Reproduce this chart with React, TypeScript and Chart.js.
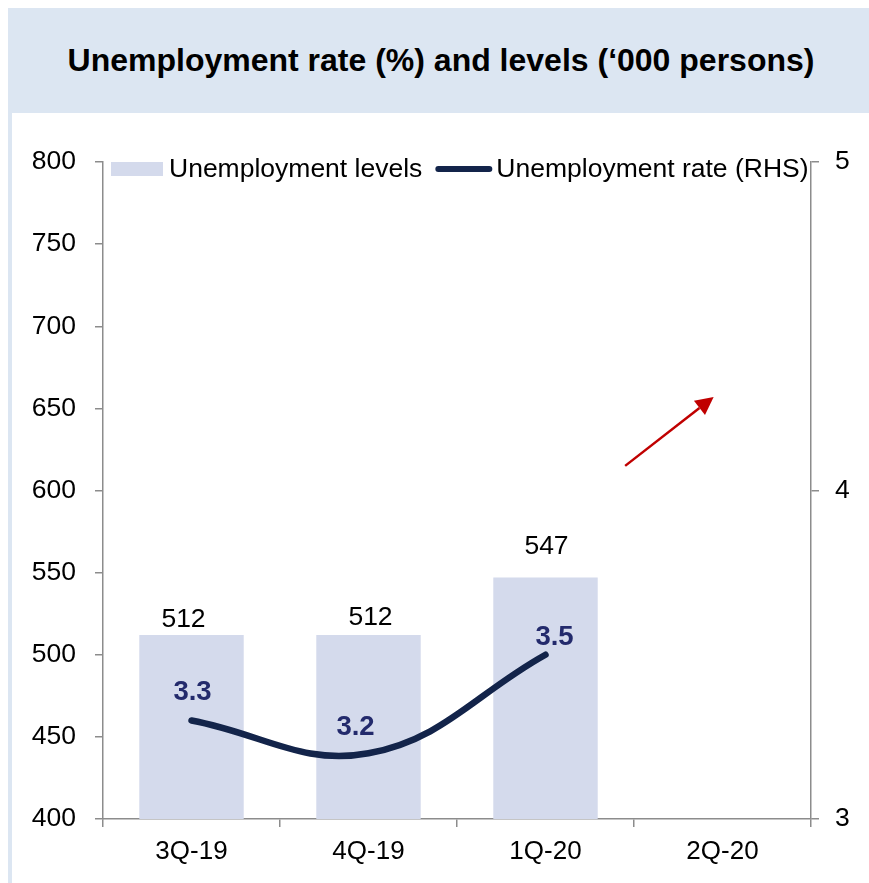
import React, { useEffect, useRef } from "react";
import { Chart, registerables } from "chart.js";

Chart.register(...registerables);

const categories = ["3Q-19", "4Q-19", "1Q-20", "2Q-20"];
const levels: (number | null)[] = [512, 512, 547, null];
const rates: (number | null)[] = [3.3, 3.2, 3.5, null];
const levelTicks = { min: 400, max: 800, step: 50 };
const rateTicks = { min: 3, max: 5, step: 1 };
const levelLabel = "Unemployment levels";
const rateLabel = "Unemployment rate (RHS)";
const titleText = "Unemployment rate (%) and levels (\u2018000 persons)";
// arrow annotation expressed in scale units (category index, left-axis value)
const arrowFrom = { x: 2.45, y: 615 };
const arrowTo = { x: 2.95, y: 657 };

// label style offsets (px)
const barLabelDx = [-8, 2, 1, 0];
const barLabelGap = [5, 7, 21, 5];
const rateLabelDx = [1, -13, 9, 0];
const rateLabelDy = [-28, -26, -17, -20];

const FONT = "'Liberation Sans', Arial, sans-serif";
const BAR_COLOR = "#d4daec";
const LINE_COLOR = "#13244a";
const RATE_LABEL_COLOR = "#232a6c";
const AXIS_COLOR = "#8c8c8c";

const labelsPlugin = {
  id: "customLabels",
  afterDatasetsDraw(chart: any) {
    const ctx = chart.ctx;
    ctx.save();
    const barMeta = chart.getDatasetMeta(0);
    ctx.font = `26.5px ${FONT}`;
    ctx.fillStyle = "#000";
    ctx.textAlign = "center";
    ctx.textBaseline = "bottom";
    barMeta.data.forEach((el: any, i: number) => {
      const v = levels[i];
      if (v == null) return;
      ctx.fillText(String(v), el.x + barLabelDx[i], el.y - barLabelGap[i] + 3);
    });
    const lineMeta = chart.getDatasetMeta(1);
    ctx.font = `bold 27.5px ${FONT}`;
    ctx.fillStyle = RATE_LABEL_COLOR;
    ctx.textBaseline = "middle";
    lineMeta.data.forEach((el: any, i: number) => {
      const v = rates[i];
      if (v == null) return;
      ctx.fillText(v.toFixed(1), el.x + rateLabelDx[i], el.y + rateLabelDy[i]);
    });

    // arrow annotation
    const xs = chart.scales.x;
    const ys = chart.scales.y;
    const x1 = xs.getPixelForValue(arrowFrom.x);
    const y1 = ys.getPixelForValue(arrowFrom.y);
    const x2 = xs.getPixelForValue(arrowTo.x);
    const y2 = ys.getPixelForValue(arrowTo.y);
    const ang = Math.atan2(y2 - y1, x2 - x1);
    const headLen = 18;
    const headW = 9;
    const bx = x2 - headLen * Math.cos(ang);
    const by = y2 - headLen * Math.sin(ang);
    ctx.strokeStyle = "#c00000";
    ctx.fillStyle = "#c00000";
    ctx.lineWidth = 2.5;
    ctx.beginPath();
    ctx.moveTo(x1, y1);
    ctx.lineTo(bx, by);
    ctx.stroke();
    ctx.beginPath();
    ctx.moveTo(x2, y2);
    ctx.lineTo(bx + headW * Math.sin(ang), by - headW * Math.cos(ang));
    ctx.lineTo(bx - headW * Math.sin(ang), by + headW * Math.cos(ang));
    ctx.closePath();
    ctx.fill();
    ctx.restore();
  },
  afterDraw(chart: any) {
    // legend drawn inside the chart area at the top
    const ctx = chart.ctx;
    const area = chart.chartArea;
    ctx.save();
    ctx.font = `26.5px ${FONT}`;
    ctx.textBaseline = "middle";
    ctx.textAlign = "left";
    const cy = area.top + 7;
    let x = area.left + 8;
    const ds = chart.data.datasets;
    ctx.fillStyle = ds[0].backgroundColor;
    ctx.fillRect(x, cy - 7, 52, 14);
    x += 58;
    ctx.fillStyle = "#000";
    ctx.fillText(ds[0].label, x, cy + 1);
    x += ctx.measureText(ds[0].label).width + 13;
    ctx.strokeStyle = ds[1].borderColor;
    ctx.lineWidth = 6;
    ctx.lineCap = "round";
    ctx.beginPath();
    ctx.moveTo(x + 3, cy);
    ctx.lineTo(x + 54, cy);
    ctx.stroke();
    x += 61;
    ctx.fillText(ds[1].label, x, cy + 1);
    ctx.restore();
  },
};

export default function App() {
  const ref = useRef<HTMLCanvasElement | null>(null);

  useEffect(() => {
    if (!ref.current) return;
    const chart = new Chart(ref.current, {
      type: "bar",
      data: {
        labels: categories,
        datasets: [
          {
            type: "bar",
            label: levelLabel,
            data: levels,
            backgroundColor: BAR_COLOR,
            borderWidth: 0,
            categoryPercentage: 1,
            barPercentage: 0.59,
            yAxisID: "y",
            order: 1,
          } as any,
          {
            type: "line",
            label: rateLabel,
            data: rates,
            borderColor: LINE_COLOR,
            backgroundColor: LINE_COLOR,
            borderWidth: 6.5,
            borderCapStyle: "round",
            pointRadius: 0,
            tension: 0.4,
            fill: false,
            yAxisID: "y2",
            order: 0,
          } as any,
        ],
      },
      options: {
        responsive: false,
        animation: false,
        layout: { padding: { top: 49, left: 0, right: 0, bottom: 0 } },
        plugins: {
          legend: { display: false },
          tooltip: { enabled: false },
          title: { display: false },
        },
        scales: {
          x: {
            offset: true,
            grid: {
              display: true,
              offset: true,
              drawOnChartArea: false,
              drawTicks: true,
              tickLength: 8,
              color: AXIS_COLOR,
              lineWidth: 1.5,
            },
            border: { display: true, color: AXIS_COLOR, width: 1.5 },
            ticks: {
              font: { family: FONT, size: 26 },
              color: "#000",
              padding: 9,
              maxRotation: 0,
              autoSkip: false,
            },
            afterFit: (s: any) => {
              s.height = 64;
            },
          },
          y: {
            position: "left",
            min: levelTicks.min,
            max: levelTicks.max,
            ticks: {
              stepSize: levelTicks.step,
              font: { family: FONT, size: 26.5 },
              color: "#000",
              padding: 19,
            },
            grid: {
              display: true,
              drawOnChartArea: false,
              drawTicks: true,
              tickLength: 8,
              color: AXIS_COLOR,
              lineWidth: 1.5,
            },
            border: { display: true, color: AXIS_COLOR, width: 1.5 },
            afterFit: (s: any) => {
              s.width = 91;
            },
          },
          y2: {
            position: "right",
            min: rateTicks.min,
            max: rateTicks.max,
            ticks: {
              stepSize: rateTicks.step,
              font: { family: FONT, size: 26.5 },
              color: "#000",
              padding: 16,
            },
            grid: {
              display: true,
              drawOnChartArea: false,
              drawTicks: true,
              tickLength: 8,
              color: AXIS_COLOR,
              lineWidth: 1.5,
            },
            border: { display: true, color: AXIS_COLOR, width: 1.5 },
            afterFit: (s: any) => {
              s.width = 58;
            },
          },
        },
      },
      plugins: [labelsPlugin],
    });
    return () => chart.destroy();
  }, []);

  return (
    <div
      style={{
        position: "fixed",
        left: 8,
        top: 8,
        right: 0,
        bottom: 0,
        background: "#dce6f2",
        overflow: "hidden",
      }}
    >
      <div
        style={{
          height: 105,
          display: "flex",
          alignItems: "center",
          justifyContent: "center",
          paddingLeft: 5,
          fontFamily: FONT,
          fontWeight: "bold",
          fontSize: 32,
          color: "#000",
          boxSizing: "border-box",
        }}
      >
        {titleText}
      </div>
      <div
        style={{
          position: "absolute",
          left: 4,
          top: 105,
          width: 857,
          height: 770,
          background: "#ffffff",
        }}
      >
        <canvas ref={ref} width={857} height={770} style={{ display: "block" }} />
      </div>
    </div>
  );
}
